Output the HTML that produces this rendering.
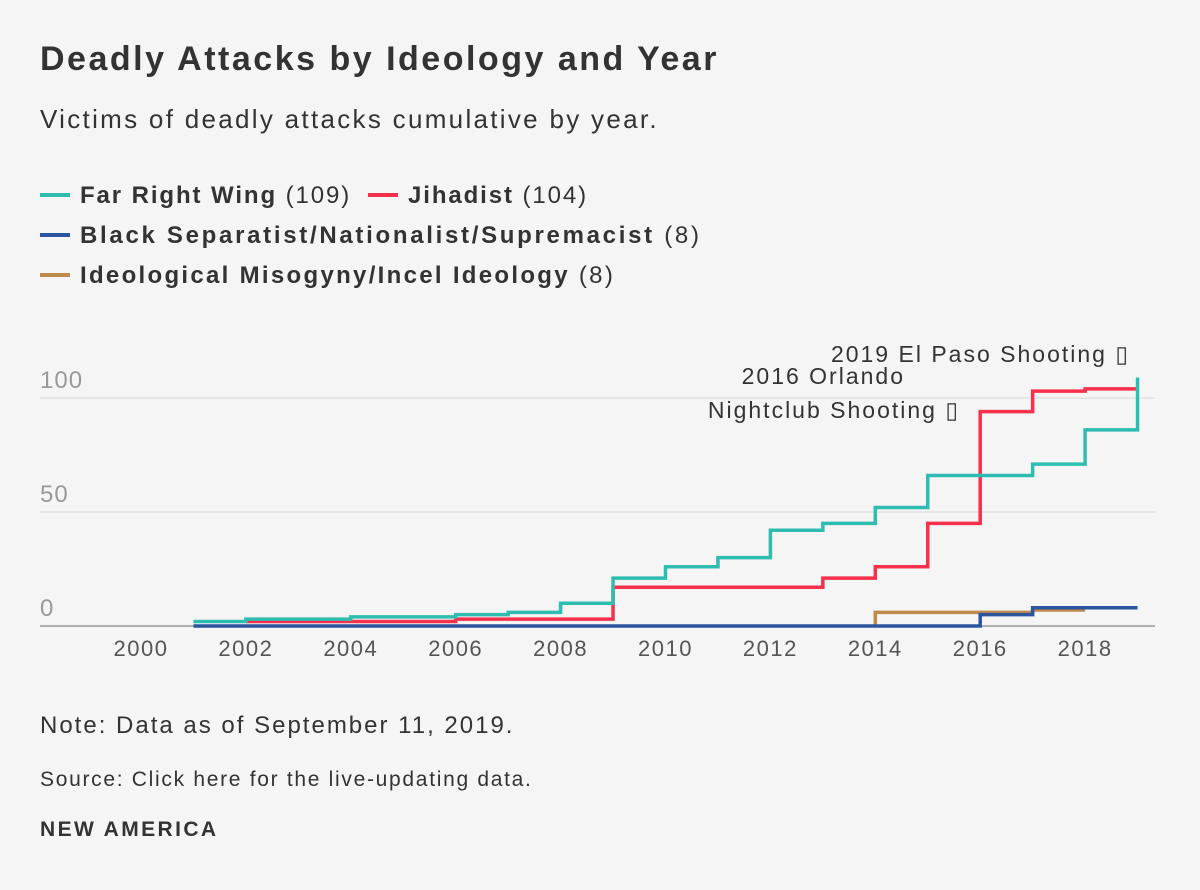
<!DOCTYPE html>
<html><head><meta charset="utf-8"><style>
body{margin:0;width:1200px;height:890px;background:#f5f5f5;font-family:"Liberation Sans",sans-serif;color:#333;position:relative;overflow:hidden}
.t{position:absolute;white-space:nowrap}
.sw{display:inline-block;width:30px;height:4px;vertical-align:middle;margin-right:10px;position:relative;top:-2px}
.lg{font-size:24px;letter-spacing:1.9px}
</style></head><body>
<div class="t" style="left:40px;top:40px;font-size:34px;font-weight:bold;letter-spacing:2.5px">Deadly Attacks by Ideology and Year</div>
<div class="t" style="left:40px;top:104px;font-size:26px;letter-spacing:2.3px">Victims of deadly attacks cumulative by year.</div>
<div class="t lg" style="left:40px;top:182px"><span class="sw" style="background:#2ebdb0"></span><b>Far Right Wing</b> (109)</div>
<div class="t lg" style="left:368px;top:182px"><span class="sw" style="background:#f7314b"></span><b>Jihadist</b> (104)</div>
<div class="t lg" style="left:40px;top:222px;letter-spacing:2.7px"><span class="sw" style="background:#2c55a0"></span><b>Black Separatist/Nationalist/Supremacist</b> (8)</div>
<div class="t lg" style="left:40px;top:262px;letter-spacing:2.3px"><span class="sw" style="background:#c08a4d"></span><b>Ideological Misogyny/Incel Ideology</b> (8)</div>
<svg id="chart" style="position:absolute;left:0;top:0" width="1200" height="890"></svg>
<div class="t" style="left:40px;top:712px;font-size:24px;letter-spacing:2px">Note: Data as of September 11, 2019.</div>
<div class="t" style="left:40px;top:768px;font-size:21px;letter-spacing:1.7px">Source: Click here for the live-updating data.</div>
<div class="t" style="left:40px;top:818px;font-size:21px;font-weight:bold;letter-spacing:2.4px">NEW AMERICA</div>
<script>
const years=[2001,2002,2003,2004,2005,2006,2007,2008,2009,2010,2011,2012,2013,2014,2015,2016,2017,2018,2019];
const farRight=[2,3,3,4,4,5,6,10,21,26,30,42,45,52,66,66,71,86,109];
const jihadYears=[2002,2003,2004,2005,2006,2007,2008,2009,2010,2011,2012,2013,2014,2015,2016,2017,2018,2019];
const jihadist=[2,2,2,2,3,3,3,17,17,17,17,21,26,45,94,103,104,104];
const blackSep=[0,0,0,0,0,0,0,0,0,0,0,0,0,0,0,5,8,8,8];
const incelYears=[2014,2015,2016,2017,2018];
const incel=[6,6,6,7,7];
const yTicks=[0,50,100];
const xTicks=[2000,2002,2004,2006,2008,2010,2012,2014,2016,2018];
const svg=document.getElementById('chart');const NS='http://www.w3.org/2000/svg';
const x=v=>141+(v-2000)*52.45, y=v=>626-v*2.28;
function mk(t,a){const e=document.createElementNS(NS,t);for(const k in a)e.setAttribute(k,a[k]);svg.appendChild(e);return e;}
yTicks.forEach(t=>{const l=mk('line',{x1:40,x2:1155,y1:y(t),y2:y(t),stroke:t?'#d8d8d8':'#999','stroke-width':t?1:1.5});

const tx=mk('text',{x:40,y:y(t)-10,'font-size':24,fill:'#999','font-family':'Liberation Sans','letter-spacing':1});tx.textContent=t;
});
xTicks.forEach(t=>{const tx=mk('text',{x:x(t),y:656,'font-size':22,fill:'#555','text-anchor':'middle','font-family':'Liberation Sans','letter-spacing':1.5});tx.textContent=t;
});
function step(xs,vs,c,name,fromZero){let d=fromZero?'M'+x(xs[0])+','+y(0)+'V'+y(vs[0]):'';
for(let i=0;i<xs.length;i++){d+=(i||fromZero?(i?'H'+x(xs[i])+'V':'V'):'M'+x(xs[i])+',')+y(vs[i]);}
const p=mk('path',{d:d,fill:'none',stroke:c,'stroke-width':3.5});}
step(incelYears,incel,'#c08a4d','line-incel',true);
step(years,blackSep,'#2c55a0','line-black-separatist');
step(jihadYears,jihadist,'#f7314b','line-jihadist');
step(years,farRight,'#2ebdb0','line-far-right');
[['2019 El Paso Shooting ▯',1130,362,'annotation-el-paso'],['2016 Orlando',905,384,'annotation-orlando-1'],['Nightclub Shooting ▯',960,418,'annotation-orlando-2']].forEach(a=>{
const tx=mk('text',{x:a[1],y:a[2],'font-size':23,fill:'#333','text-anchor':'end','font-family':'Liberation Sans','letter-spacing':2});tx.textContent=a[0];
});
</script>
</body></html>
